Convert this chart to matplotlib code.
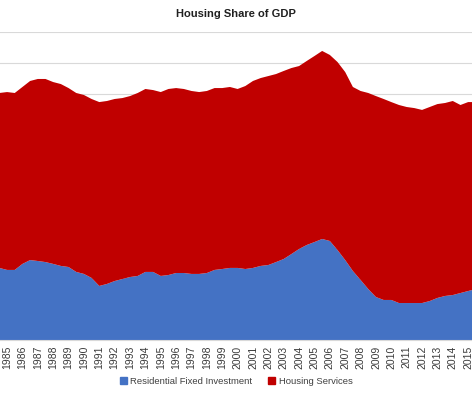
import numpy as np
import matplotlib
matplotlib.use('Agg')
import matplotlib.pyplot as plt
from matplotlib.patches import Patch

plt.rcParams['font.family'] = ['Liberation Sans', 'DejaVu Sans']

# half-year samples, share of GDP in %
years = [1984.5 + 0.5 * i for i in range(63)]

residential = [4.68, 4.55, 4.55, 4.94, 5.19, 5.13, 5.06, 4.94, 4.81, 4.74,
               4.42, 4.29, 4.03, 3.51, 3.64, 3.83, 3.96, 4.09, 4.16, 4.42,
               4.42, 4.16, 4.22, 4.35, 4.35, 4.29, 4.29, 4.35, 4.55, 4.61,
               4.68, 4.68, 4.61, 4.68, 4.81, 4.87, 5.06, 5.26, 5.58, 5.91,
               6.17, 6.36, 6.56, 6.43, 5.84, 5.19, 4.48, 3.90, 3.31, 2.79,
               2.60, 2.60, 2.40, 2.40, 2.40, 2.40, 2.53, 2.73, 2.86, 2.92,
               3.05, 3.18, 3.31]

services = [11.36, 11.55, 11.49, 11.49, 11.63, 11.82, 11.89, 11.81, 11.81, 11.62,
            11.62, 11.62, 11.62, 11.94, 11.88, 11.82, 11.75, 11.75, 11.88, 11.88,
            11.81, 11.94, 12.08, 12.01, 11.95, 11.88, 11.81, 11.82, 11.81, 11.75,
            11.75, 11.62, 11.88, 12.14, 12.20, 12.27, 12.21, 12.21, 12.08, 11.88,
            11.95, 12.08, 12.21, 12.08, 12.21, 12.21, 11.95, 12.27, 12.73, 13.05,
            13.05, 12.85, 12.86, 12.73, 12.66, 12.54, 12.60, 12.59, 12.53, 12.60,
            12.21, 12.27, 12.14]

tick_years = list(range(1985, 2016))

blue = '#4472C4'
red = '#C00000'

fig = plt.figure(figsize=(4.72, 3.94), dpi=100)
ax = fig.add_axes([0.0, 54 / 394, 1.0, 308 / 394])

ax.stackplot(years, residential, services, colors=[blue, red], linewidth=0)

ax.set_xlim(1984.54, 2015.25)
ax.set_ylim(0, 20)
ax.set_yticks(np.arange(0, 21, 2))
ax.yaxis.grid(True, color='#d9d9d9', linewidth=0.8)
ax.set_axisbelow(True)
ax.tick_params(axis='y', left=False, labelleft=False)

ax.set_xticks(tick_years)
ax.set_xticklabels([str(y) for y in tick_years], rotation=90, fontsize=7.5,
                   color='#3a3a3a')
ax.tick_params(axis='x', length=0, pad=4)

for s in ['left', 'right', 'top']:
    ax.spines[s].set_visible(False)
ax.spines['bottom'].set_color('#d9d9d9')

fig.text(0.5, 1 - 14 / 394, 'Housing Share of GDP', ha='center', va='center',
         fontsize=8, fontweight='bold', color='#202020')

handles = [Patch(color=blue, label='Residential Fixed Investment'),
           Patch(color=red, label='Housing Services')]
fig.legend(handles=handles, loc='center', bbox_to_anchor=(0.5, 1 - 381 / 394),
           ncol=2, frameon=False, fontsize=6.8, handlelength=0.75,
           handleheight=0.75, handletextpad=0.4, columnspacing=1.6,
           labelcolor='#404040')

fig.savefig('out.png', dpi=100)
